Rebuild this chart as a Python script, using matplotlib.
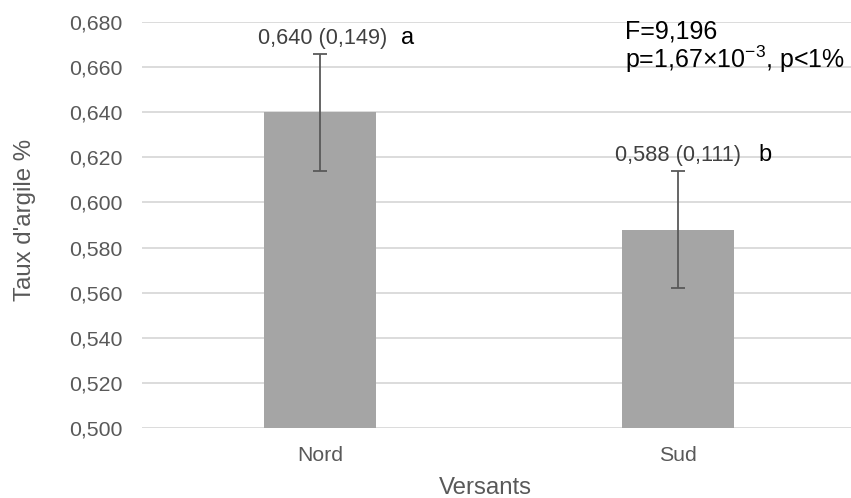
import numpy as np
import matplotlib.pyplot as plt

plt.rcParams['font.family'] = ['Liberation Sans', 'DejaVu Sans']
plt.rcParams['mathtext.fontset'] = 'custom'
plt.rcParams['mathtext.rm'] = 'Liberation Sans'
plt.rcParams['mathtext.it'] = 'Liberation Sans'

versants = ['Nord', 'Sud']
taux = [0.640, 0.588]
erreur = [0.026, 0.026]
ecart_type = ['0,149', '0,111']
groupes = ['a', 'b']
yticks = np.arange(0.50, 0.681, 0.02)

fig = plt.figure(figsize=(8.51, 4.98), dpi=100)
ax = fig.add_axes([0.1663, 0.1406, 0.8337, 0.8152])

x = np.arange(len(versants))
ax.bar(x, taux, width=0.314, color='#a5a5a5', zorder=2)
ax.errorbar(x, taux, yerr=erreur, fmt='none', ecolor='#595959',
            elinewidth=1.3, capsize=5, capthick=1.3, zorder=3)

ax.set_xlim(-0.5, 1.485)
ax.set_ylim(0.5, 0.68)
ax.set_yticks(yticks)
ax.set_yticklabels([f'{v:.3f}'.replace('.', ',') for v in yticks])
ax.set_xticks(x)
ax.set_xticklabels(versants)
ax.tick_params(length=0, labelsize=15.3, colors='#595959')
ax.tick_params(axis='y', pad=14)
ax.tick_params(axis='x', pad=13)
ax.grid(axis='y', color='#d9d9d9', linewidth=1.3, zorder=0)
for s in ax.spines.values():
    s.set_visible(False)

ax.set_ylabel("Taux d'argile %", fontsize=17.3, color='#595959', va='center')
ax.yaxis.set_label_coords(-0.164, 0.512)
ax.set_xlabel('Versants', fontsize=17.3, color='#595959', va='center')
ax.xaxis.set_label_coords(0.484, -0.148)

# valeurs moyennes (écart-type) et groupes homogènes
for xi, v, e, sd, g in zip(x, taux, erreur, ecart_type, groupes):
    yt = v + e + 0.0042
    ax.text(xi - 0.174, yt, f"{v:.3f}".replace('.', ',') + f" ({sd})",
            ha='left', va='baseline', fontsize=15.7, color='#404040')
    ax.text(xi + 0.226, yt, g, ha='left', va='baseline', fontsize=17,
            color='black')

ax.text(0.853, 0.6729, 'F=9,196', ha='left', va='baseline', fontsize=18,
        color='black')
ax.text(0.853, 0.6596, r'p=1,67×10$^{-3}$, p<1%', ha='left', va='baseline',
        fontsize=18, color='black')

fig.savefig('out.png', dpi=100)
